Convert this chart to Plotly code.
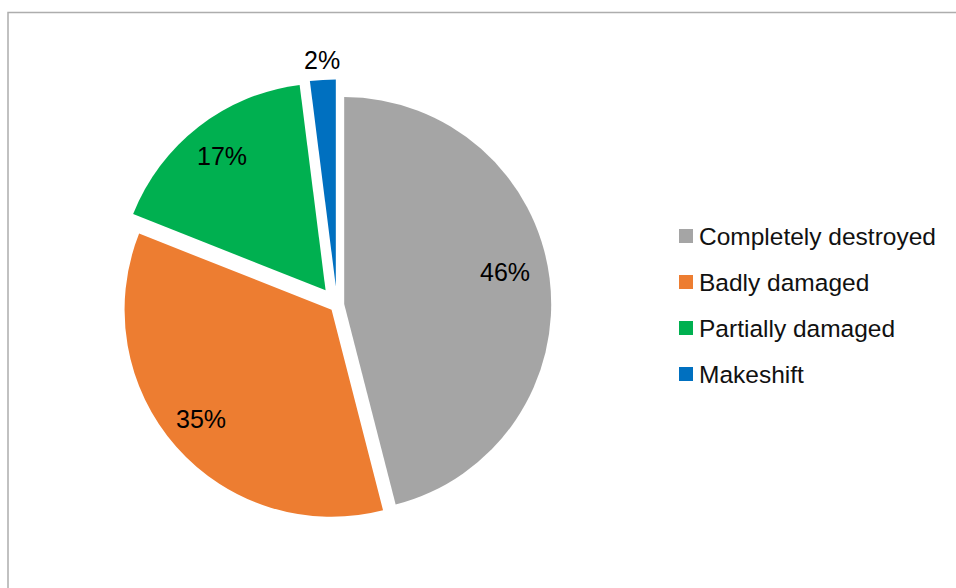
import math
import plotly.graph_objects as go

# Housing condition shares
categories = ["Completely destroyed", "Badly damaged", "Partially damaged", "Makeshift"]
shares = [46, 35, 17, 2]
pulls = [0.035, 0.035, 0.09, 0.09]
colors = ["#A5A5A5", "#ED7D31", "#00B050", "#0070C0"]

# Label placement: radial factor and angular nudge (degrees) per slice
label_radius = [0.79, 0.82, 0.82, 1.095]
label_nudge = [-4.0, 1.5, 0.0, 0.0]

W, H = 956, 588
CX, CY = 337, 305          # pie centre in px (from top-left)
R = 207                    # pie radius in px
FONT = "Liberation Sans, Arial, sans-serif"

max_pull = max(pulls)
box = 2 * R * (1 + max_pull)

fig = go.Figure(
    go.Pie(
        labels=categories,
        values=shares,
        pull=pulls,
        sort=False,
        direction="clockwise",
        rotation=0,
        marker=dict(colors=colors, line=dict(width=0)),
        textinfo="none",
        hoverinfo="label+percent",
        showlegend=False,
        domain=dict(
            x=[(CX - box / 2) / W, (CX + box / 2) / W],
            y=[1 - (CY + box / 2) / H, 1 - (CY - box / 2) / H],
        ),
    )
)

# Percentage labels placed along each slice's mid-angle
total = sum(shares)
cum = 0
annotations = []
for v, p, k, nudge in zip(shares, pulls, label_radius, label_nudge):
    mid = (cum + v / 2) / total * 2 * math.pi
    cum += v
    dx, dy = math.sin(mid), -math.cos(mid)
    vx, vy = CX + p * R * dx, CY + p * R * dy
    ang = mid + math.radians(nudge)
    lx, ly = vx + k * R * math.sin(ang), vy - k * R * math.cos(ang)
    annotations.append(dict(
        x=lx / W, y=1 - ly / H, xref="paper", yref="paper",
        text=f"{round(v / total * 100)}%", showarrow=False,
        xanchor="center", yanchor="middle",
        font=dict(family=FONT, size=25, color="#000000"),
    ))

# Legend drawn as swatches and text
shapes = []
LX, LY0, LGAP, SW = 679, 236, 46, 14
for i, (name, c) in enumerate(zip(categories, colors)):
    yc = LY0 + i * LGAP
    shapes.append(dict(
        type="rect", xref="paper", yref="paper",
        x0=LX / W, x1=(LX + SW) / W,
        y0=1 - (yc + SW / 2) / H, y1=1 - (yc - SW / 2) / H,
        fillcolor=c, line=dict(width=0),
    ))
    annotations.append(dict(
        x=(LX + SW + 4) / W, y=1 - yc / H, xref="paper", yref="paper",
        text=name, showarrow=False, xanchor="left", yanchor="middle",
        font=dict(family=FONT, size=24.5, color="#111111"),
    ))

# Chart-area frame
shapes.append(dict(
    type="rect", xref="paper", yref="paper",
    x0=8 / W, x1=1.2, y0=-0.2, y1=1 - 12.5 / H,
    line=dict(color="#ADADAD", width=1.5), fillcolor="rgba(0,0,0,0)",
    layer="below",
))

fig.update_layout(
    width=W, height=H,
    margin=dict(l=0, r=0, t=0, b=0),
    paper_bgcolor="#FFFFFF",
    plot_bgcolor="#FFFFFF",
    annotations=annotations,
    shapes=shapes,
    showlegend=False,
)

fig.write_html("out.html")
